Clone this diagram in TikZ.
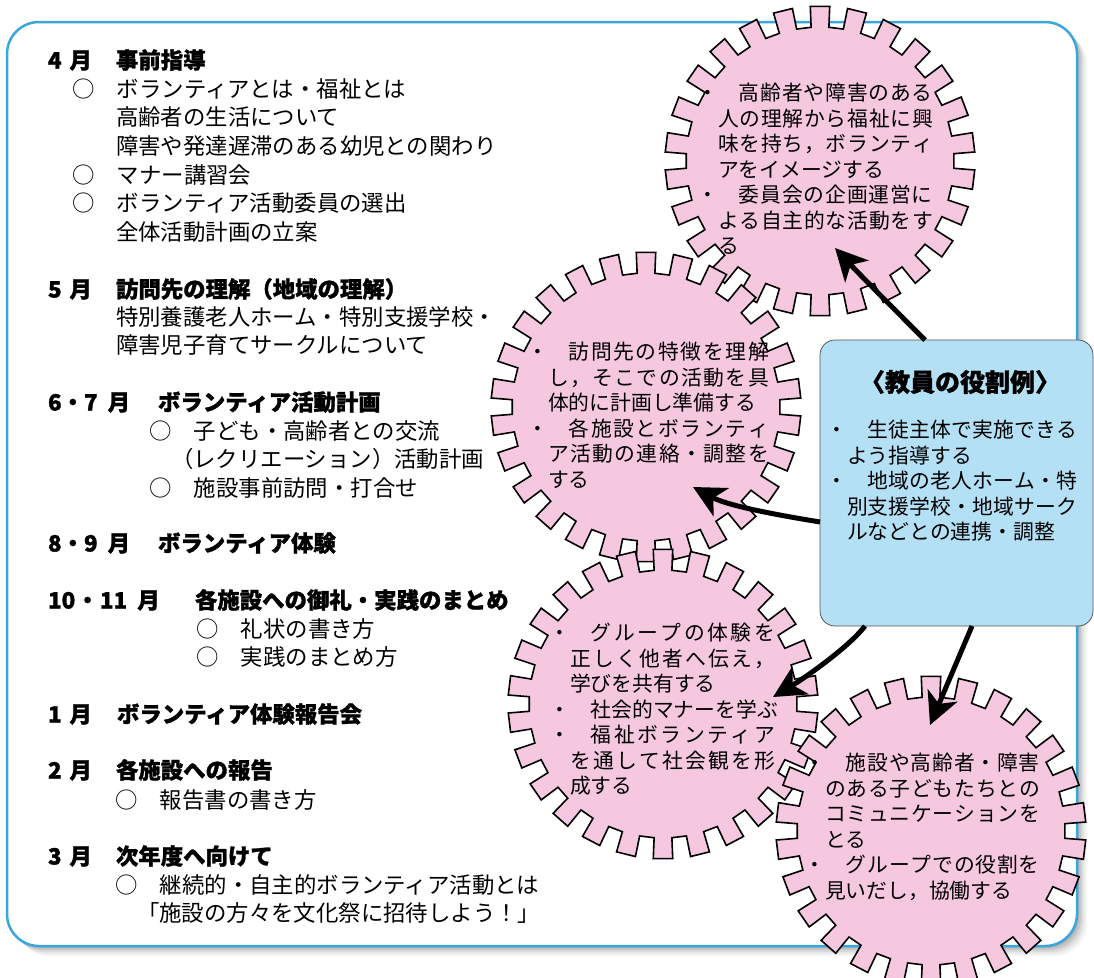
\documentclass[tikz,border=0pt]{standalone}
\usepackage{fontspec}
\setmainfont{Noto Sans CJK JP}[BoldFeatures={FakeBold=1.2}]
\usetikzlibrary{arrows.meta}
\definecolor{frameblue}{RGB}{58,166,221}
\definecolor{gearpink}{RGB}{245,200,223}
\definecolor{boxblue}{RGB}{180,224,246}
\definecolor{boxedge}{RGB}{85,85,85}
\tikzset{
  every node/.style={inner sep=0pt, outer sep=0pt},
  lefttxt/.style={anchor=west, font=\fontsize{22.4}{26}\selectfont, text height=19.7pt, text depth=2.7pt},
  headtxt/.style={anchor=west, font=\fontsize{22.4}{26}\selectfont\bfseries, text height=19.7pt, text depth=2.7pt},
  geartxt/.style={anchor=north west, align=left, font=\fontsize{20.8}{25.5}\selectfont},
  gearshape/.style={draw=black, line width=1.6pt, fill=gearpink, line join=miter},
  arr/.style={line width=5pt, -{Stealth[length=32pt,width=32pt,inset=9pt]}},
}
\newcommand\mkline[4]{\node[lefttxt] (#1) at (#2,#3) {#4};}
\newcommand\mkhead[4]{\node[headtxt] (#1) at (#2,#3) {#4};}
\newcommand\bul{\llap{・}\hspace*{1em}}
\newcommand\fst{\rule{0pt}{18.3pt}}
% spread the characters of a line evenly over a given width
\def\sploop#1{\ifx\relax#1\else\hfil#1\expandafter\sploop\fi}
\def\spfirst#1{#1\sploop}
\newcommand\spread[2]{\hbox to #1{\spfirst#2\relax}}
\begin{document}
\begin{tikzpicture}[x=1pt,y=-1pt]
\useasboundingbox (0,0) rectangle (1094,977);
% frame shadow
\foreach \s/\o in {10/0.035,8/0.05,6/0.07,4/0.09,2/0.1}{
  \fill[black, opacity=\o, rounded corners=32pt] (7+\s,22+\s) rectangle (1077+\s,946+\s);}
\draw[frameblue, line width=2.5pt, fill=white, rounded corners=32pt] (7,22) rectangle (1077,946);

% left column
\mkhead{m4}{48}{60}{4\hspace{0.35em}月}
\mkhead{h4}{116}{60}{事前指導}
\mkline{l41}{72}{89}{○　ボランティアとは・福祉とは}
\mkline{l42}{116}{117}{高齢者の生活について}
\mkline{l43}{116}{146}{障害や発達遅滞のある幼児との関わり}
\mkline{l44}{72}{175}{○　マナー講習会}
\mkline{l45}{72}{203}{○　ボランティア活動委員の選出}
\mkline{l46}{116}{232}{全体活動計画の立案}

\mkhead{m5}{48}{289}{5\hspace{0.35em}月}
\mkhead{h5}{116}{289}{訪問先の理解（地域の理解）}
\mkline{l51}{116}{317}{特別養護老人ホーム・特別支援学校・}
\mkline{l52}{116}{345}{障害児子育てサークルについて}

\mkhead{m6}{48}{402}{6・7\hspace{0.45em}月}
\mkhead{h6}{158}{402}{ボランティア活動計画}
\mkline{l61}{149}{431}{○　子ども・高齢者との交流}
\mkline{l62}{171}{459}{（レクリエーション）活動計画}
\mkline{l63}{149}{488}{○　施設事前訪問・打合せ}

\mkhead{m8}{48}{543}{8・9\hspace{0.45em}月}
\mkhead{h8}{158}{543}{ボランティア体験}

\mkhead{m10}{48}{600}{10\hspace{0.05em}・\hspace{0.05em}11\hspace{0.45em}月}
\mkhead{h10}{195}{600}{各施設への御礼・実践のまとめ}
\mkline{l101}{196}{629}{○　礼状の書き方}
\mkline{l102}{196}{657}{○　実践のまとめ方}

\mkhead{m1}{48}{714}{1\hspace{0.35em}月}
\mkhead{h1}{117}{714}{ボランティア体験報告会}

\mkhead{m2}{48}{770}{2\hspace{0.35em}月}
\mkhead{h2}{116}{770}{各施設への報告}
\mkline{l21}{115}{800}{○　報告書の書き方}

\mkhead{m3}{48}{856}{3\hspace{0.35em}月}
\mkhead{h3}{116}{856}{次年度へ向けて}
\mkline{l31}{115}{885}{○　継続的・自主的ボランティア活動とは}
\mkline{l32}{137}{913}{「施設の方々を文化祭に招待しよう！」}

% gears
\coordinate (g1) at (820,161);
\coordinate (g2) at (646,407);
\coordinate (g3) at (663,704);
\coordinate (g4) at (931,831);
\foreach \c in {g1,g2,g3,g4}{
  \begin{scope}[shift={(\c)}]
  \draw[gearshape] ({90-3.8}:134)
    \foreach \k in {0,...,25}{
      -- ({90+\k*13.846-3.8}:134) -- ({90+\k*13.846-3.6}:155)
      -- ({90+\k*13.846+3.6}:155) -- ({90+\k*13.846+3.8}:134)} -- cycle;
  \end{scope}
}

\node[geartxt] (g1text) at (718,82.6) {\fst\bul\spread{194pt}{高齢者や障害のある}\\\spread{215pt}{人の理解から福祉に興}\\\spread{215pt}{味を持ち，ボランティ}\\アをイメージする\\\bul\spread{194pt}{委員会の企画運営に}\\\spread{215pt}{よる自主的な活動をす}\\る};
\node[geartxt] (g2text) at (548,341.6) {\fst\bul\spread{200pt}{訪問先の特徴を理解}\\\spread{221pt}{し，そこでの活動を具}\\体的に計画し準備する\\\bul\spread{200pt}{各施設とボランティ}\\\spread{221pt}{ア活動の連絡・調整を}\\する};
\node[geartxt] (g3text) at (570,622.6) {\fst\bul\spread{184pt}{グループの体験を}\\\spread{205pt}{正しく他者へ伝え，}\\学びを共有する\\\bul\spread{182pt}{社会的マナーを学ぶ}\\\bul\spread{184pt}{福祉ボランティア}\\\spread{205pt}{を通して社会観を形}\\成する};
\node[geartxt] (g4text) at (825,752.6) {\fst\bul\spread{194pt}{施設や高齢者・障害}\\\spread{215pt}{のある子どもたちとの}\\\spread{215pt}{コミュニケーションを}\\とる\\\bul\spread{194pt}{グループでの役割を}\\見いだし，協働する};

% role box
\node[draw=boxedge, line width=0.8pt, fill=boxblue, rounded corners=15pt, minimum width=273pt, minimum height=286pt, anchor=north west] (role) at (820,340) {};
\node[font=\fontsize{25}{30}\selectfont\bfseries, text height=22pt, text depth=3pt] (roletitle) at (960,382) {〈教員の役割例〉};
\node[geartxt] (roletext) at (847,419.6) {\fst\bul\spread{209pt}{生徒主体で実施できる}\\よう指導する\\\bul\spread{209pt}{地域の老人ホーム・特}\\\spread{230pt}{別支援学校・地域サーク}\\ルなどとの連携・調整};

% arrows
\coordinate (t1) at (835,248);
\coordinate (t2) at (693,487);
\coordinate (t3) at (773,697);
\coordinate (t4) at (930,725);
\draw[arr] ([xshift=105pt]role.north west) .. controls (907,322) and (863,278) .. (t1);
\draw[arr] ([yshift=-182pt]role.north west) .. controls (790,517) and (730,507) .. (t2);
\draw[arr] ([xshift=45pt]role.south west) .. controls (848,648) and (803,679) .. (t3);
\draw[arr] ([xshift=152pt]role.south west) -- (t4);
\end{tikzpicture}
\end{document}
